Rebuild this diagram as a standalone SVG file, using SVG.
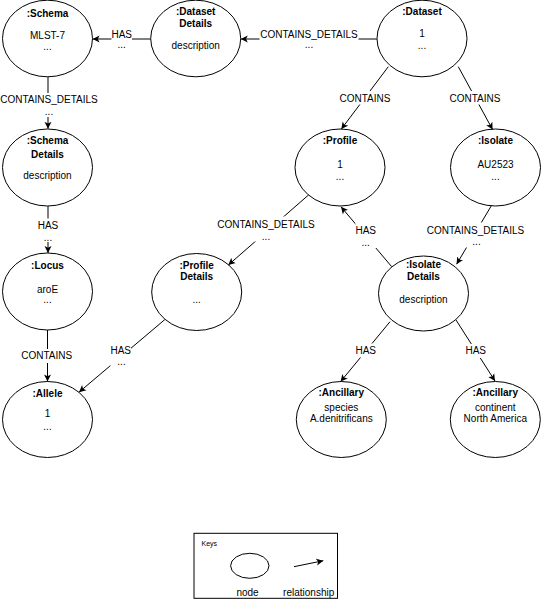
<svg xmlns="http://www.w3.org/2000/svg" width="541" height="600" viewBox="0 0 541 600">
<style>
  .n ellipse{fill:#fff;stroke:#000;stroke-width:1}
  text{font-family:"Liberation Sans",Arial,Helvetica,sans-serif;font-size:10px;fill:#000;text-anchor:middle}
  .t{font-weight:bold}
  .e line{stroke:#000;stroke-width:1;fill:none}
  .e line.a{marker-end:url(#arr)}
  .bg{fill:#fff;stroke:none}
</style>
<defs>
  <marker id="arr" markerWidth="8" markerHeight="8" refX="7" refY="4" orient="auto" markerUnits="userSpaceOnUse" viewBox="0 0 8 8">
    <path d="M0,0.5 L7,4 L0,7.5 L1.8,4 z" fill="#000"/>
  </marker>
</defs>
<rect x="0" y="0" width="541" height="600" fill="#fff"/>

<g id="schema" class="n"><ellipse cx="47.5" cy="38.5" rx="45" ry="38.3"/>
  <text class="t" x="47.5" y="16.5">:Schema</text><text x="47.5" y="38.6">MLST-7</text><text x="47.5" y="49.5">...</text></g>
<g id="dataset-details" class="n"><ellipse cx="195.7" cy="38.5" rx="45" ry="38.3"/>
  <text class="t" x="195.7" y="15.3">:Dataset</text><text class="t" x="195.7" y="27">Details</text><text x="195.7" y="49.3">description</text></g>
<g id="dataset" class="n"><ellipse cx="422" cy="38.5" rx="45" ry="38.3"/>
  <text class="t" x="422" y="15.3">:Dataset</text><text x="422" y="36.6">1</text><text x="422" y="49">...</text></g>

<g id="schema-details" class="n"><ellipse cx="47.5" cy="167.5" rx="45" ry="38.5"/>
  <text class="t" x="47.5" y="144">:Schema</text><text class="t" x="47.5" y="157.5">Details</text><text x="47.5" y="178.7">description</text></g>
<g id="profile" class="n"><ellipse cx="340" cy="167.5" rx="45" ry="38.5"/>
  <text class="t" x="340" y="144.3">:Profile</text><text x="340" y="168">1</text><text x="340" y="179.5">...</text></g>
<g id="isolate" class="n"><ellipse cx="495.5" cy="167.5" rx="45" ry="38.5"/>
  <text class="t" x="495.5" y="144.3">:Isolate</text><text x="495.5" y="168">AU2523</text><text x="495.5" y="179.5">...</text></g>

<g id="locus" class="n"><ellipse cx="47.5" cy="291.5" rx="45" ry="38.5"/>
  <text class="t" x="47.5" y="268.6">:Locus</text><text x="47.5" y="292.5">aroE</text><text x="47.5" y="303">...</text></g>
<g id="profile-details" class="n"><ellipse cx="196.7" cy="292" rx="45" ry="38.5"/>
  <text class="t" x="196.7" y="268.6">:Profile</text><text class="t" x="196.7" y="279.6">Details</text><text x="196.7" y="303">...</text></g>
<g id="isolate-details" class="n"><ellipse cx="423.5" cy="293.5" rx="45" ry="37.5"/>
  <text class="t" x="423.5" y="267.6">:Isolate</text><text class="t" x="423.5" y="279.6">Details</text><text x="423.5" y="302.5">description</text></g>

<g id="allele" class="n"><ellipse cx="47.5" cy="419.5" rx="45" ry="38"/>
  <text class="t" x="47.5" y="397">:Allele</text><text x="47.5" y="417">1</text><text x="47.5" y="430">...</text></g>
<g id="ancillary-species" class="n"><ellipse cx="341.3" cy="419.5" rx="45" ry="38"/>
  <text class="t" x="341.3" y="396">:Ancillary</text><text x="341.3" y="411">species</text><text x="341.3" y="422">A.denitrificans</text></g>
<g id="ancillary-continent" class="n"><ellipse cx="495.3" cy="419.5" rx="45" ry="38"/>
  <text class="t" x="495.3" y="396">:Ancillary</text><text x="495.3" y="411">continent</text><text x="495.3" y="422">North America</text></g>

<g id="connectors" class="e">
  <line class="a" x1="150.7" y1="39" x2="92.6" y2="39"/>
  <line class="a" x1="376.9" y1="39" x2="240.8" y2="39"/>
  <line class="a" x1="48" y1="76.8" x2="48" y2="128.8"/>
  <line class="a" x1="48" y1="206" x2="48" y2="253"/>
  <line class="a" x1="47.5" y1="330" x2="47.5" y2="381.4"/>
  <line class="a" x1="164.8" y1="319.6" x2="79" y2="392.2"/>
  <line class="a" x1="388.3" y1="66.7" x2="341.3" y2="129.1"/>
  <line class="a" x1="458.3" y1="66.7" x2="492.6" y2="129.6"/>
  <line class="a" x1="308.5" y1="195" x2="228.3" y2="265"/>
  <line class="a" x1="491.3" y1="205.8" x2="456.6" y2="264.2"/>
  <line class="a" x1="391.7" y1="266.7" x2="341" y2="206.8"/>
  <line class="a" x1="390" y1="321.7" x2="340.6" y2="381.6"/>
  <line class="a" x1="456" y1="320" x2="495" y2="381"/>

  <rect class="bg" x="111.4" y="29" width="20.6" height="21"/>
  <text x="121.7" y="37.6">HAS</text><text x="121.7" y="48">...</text>
  <rect class="bg" x="259.5" y="29" width="99" height="21"/>
  <text x="309" y="37.6">CONTAINS_DETAILS</text><text x="309" y="48">...</text>
  <rect class="bg" x="-0.5" y="93" width="99" height="24"/>
  <text x="49" y="102.6">CONTAINS_DETAILS</text><text x="49" y="114.5">...</text>
  <rect class="bg" x="37.7" y="218.5" width="20.6" height="23.5"/>
  <text x="48" y="228.6">HAS</text><text x="48" y="240.5">...</text>
  <rect class="bg" x="20.9" y="349" width="51.7" height="14"/>
  <text x="46.7" y="359.3">CONTAINS</text>
  <rect class="bg" x="110.4" y="343" width="20.6" height="25"/>
  <text x="120.7" y="353.6">HAS</text><text x="121.5" y="365">...</text>
  <rect class="bg" x="339.2" y="91" width="51.7" height="13.5"/>
  <text x="365" y="101.5">CONTAINS</text>
  <rect class="bg" x="449.2" y="91" width="51.7" height="13.5"/>
  <text x="475" y="101.5">CONTAINS</text>
  <rect class="bg" x="216.5" y="216.5" width="99" height="25"/>
  <text x="266" y="228">CONTAINS_DETAILS</text><text x="266" y="240">...</text>
  <rect class="bg" x="426" y="222.5" width="99" height="25"/>
  <text x="475.5" y="233.6">CONTAINS_DETAILS</text><text x="476.5" y="245">...</text>
  <rect class="bg" x="355.4" y="223" width="20.6" height="25"/>
  <text x="365.7" y="233.6">HAS</text><text x="365.7" y="246">...</text>
  <rect class="bg" x="355.4" y="343.5" width="20.6" height="14"/>
  <text x="365.7" y="353.6">HAS</text>
  <rect class="bg" x="465.4" y="344" width="20.6" height="14"/>
  <text x="475.7" y="354.3">HAS</text>
</g>

<g id="keys">
  <rect x="194" y="533.3" width="143.5" height="65" fill="#fff" stroke="#000" stroke-width="1"/>
  <text x="201.5" y="546" style="font-size:7px;text-anchor:start">Keys</text>
  <ellipse cx="249.8" cy="565.8" rx="19.2" ry="12.5" fill="#fff" stroke="#000" stroke-width="1"/>
  <text x="247.5" y="596">node</text>
  <line x1="294" y1="566.7" x2="323.3" y2="560.7" stroke="#000" stroke-width="1" marker-end="url(#arr)"/>
  <text x="308.7" y="596">relationship</text>
</g>
</svg>
